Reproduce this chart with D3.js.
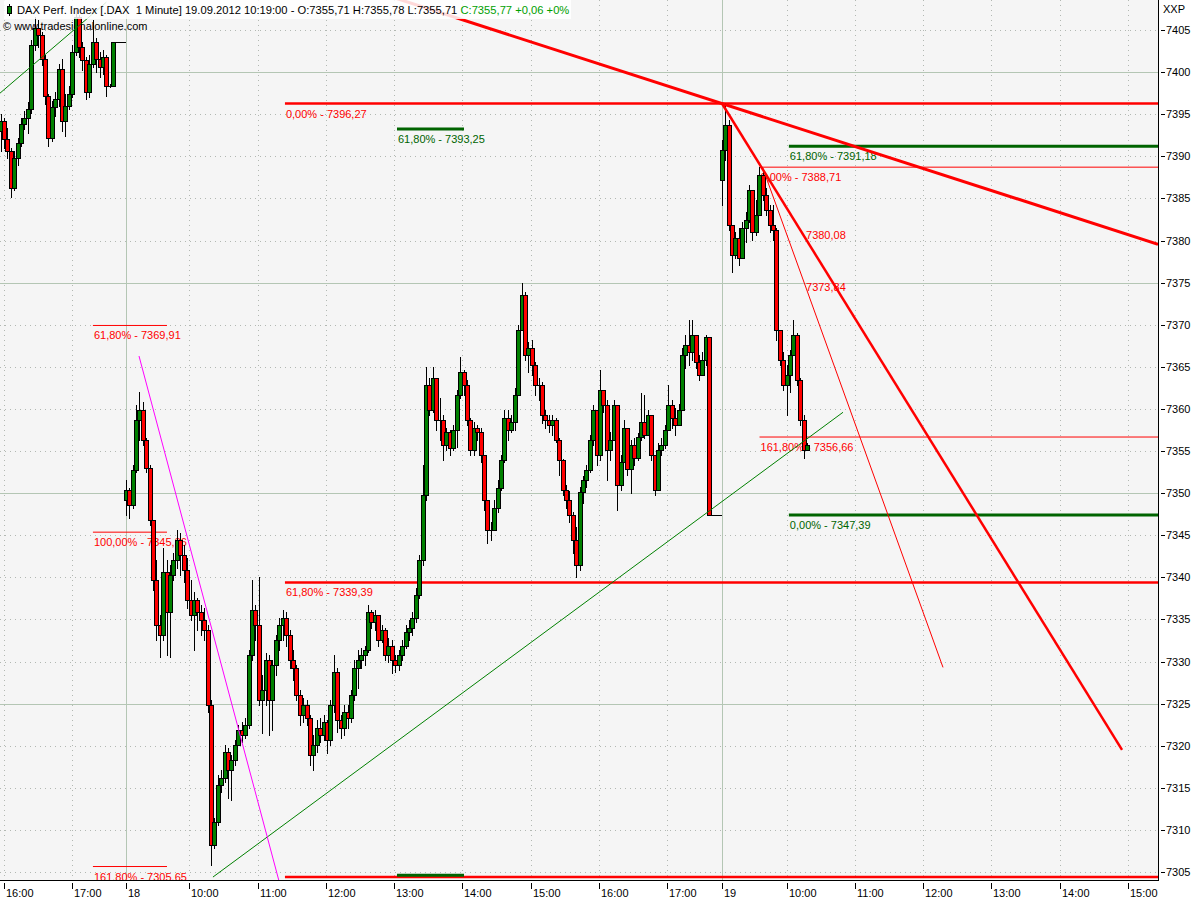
<!DOCTYPE html>
<html><head><meta charset="utf-8">
<script src="https://cdn.jsdelivr.net/npm/d3@7"></script>
<style>
body{margin:0;background:#fff}
svg{display:block}
text{font-family:"Liberation Sans",Arial,sans-serif;font-size:11px}
</style>
</head><body>
<svg id="chart" width="1200" height="900"></svg>
<script>
// ---------- DATA ----------
const barMinutes = 3;
const sessionStart = [-3, 107, 631];          // minute index of first bar of each session
const sessionOpen  = [7393.0, 7349.2, 7387.2];

const d17Close = [7394.2,7392.0,7390.6,7386.2,7389.8,7391.6,7393.8,7394.6,7395.6,7403.2,7405.2,7404.4,7401.6,7397.2,7392.2,7395.8,7396.8,7400.4,7394.2,7396.0,7397.4,7402.4,7406.6,7403.0,7401.4,7397.6,7401.0,7403.6,7401.6,7400.6,7401.8,7398.4,7398.4,7403.6,7403.6,7403.6,7403.6];
const d17High  = [7395.0,7394.6,7393.4,7391.0,7390.6,7392.2,7394.6,7395.4,7396.4,7403.8,7406.6,7406.2,7404.8,7402.0,7397.4,7396.6,7397.6,7401.0,7401.6,7397.4,7398.4,7403.2,7407.6,7406.8,7403.6,7401.8,7402.0,7406.2,7404.0,7402.4,7402.6,7402.0,7398.6,7403.6,7403.6,7403.6,7403.6];
const d17Low   = [7390.6,7391.0,7389.8,7385.2,7386.0,7389.0,7391.2,7393.2,7392.8,7395.2,7402.6,7403.0,7400.8,7396.2,7391.2,7391.8,7394.8,7396.0,7393.0,7392.4,7395.6,7397.0,7402.0,7401.8,7400.2,7396.8,7397.0,7400.6,7400.0,7399.4,7399.8,7397.2,7398.2,7398.4,7403.6,7403.6,7403.6];

const d18Close = [7350.4,7348.6,7352.7,7358.7,7359.9,7356.3,7353.0,7346.8,7339.7,7334.3,7333.2,7340.6,7335.9,7340.3,7342.1,7344.4,7342.6,7340.9,7337.3,7335.5,
7337.3,7335.9,7334.9,7333.7,7324.8,7308.2,7310.9,7315.3,7316.2,7319.3,7317.1,7318.3,7320.1,7321.9,7321.3,7322.5,7330.8,7336.1,7334.3,7325.4,
7326.6,7330.2,7325.4,7329.6,7332.6,7334.3,7335.2,7333.2,7330.2,7329.2,7326.0,7323.7,7324.8,7323.3,7318.9,7320.1,7322.1,7321.3,7322.8,7320.7,
7324.8,7328.7,7323.1,7322.1,7324.0,7323.3,7326.0,7329.2,7330.2,7330.8,7331.4,7335.9,7334.7,7335.5,7332.6,7333.7,7330.8,7331.9,7330.2,7329.6,
7330.8,7331.9,7333.5,7334.0,7335.2,7337.9,7342.0,7349.8,7362.8,7359.9,7363.7,7358.7,7358.7,7355.7,7357.3,7355.4,7357.5,7361.7,7364.4,7362.8,
7358.7,7355.1,7357.7,7357.3,7354.5,7349.2,7345.6,7345.6,7348.2,7350.6,7353.9,7358.9,7357.5,7358.5,7361.7,7369.4,7373.5,7366.4,7367.2,7365.2,
7362.8,7362.8,7359.3,7358.7,7358.1,7358.7,7356.3,7353.9,7350.4,7349.2,7347.4,7344.4,7341.5,7350.1,7351.6,7352.7,7356.3,7359.9,7354.5,7362.3,
7360.5,7355.1,7356.3,7360.5,7351.0,7353.7,7357.7,7352.9,7355.7,7354.2,7356.7,7358.5,7356.9,7359.3,7354.5,7350.4,7355.1,7355.7,7357.5,7360.5,
7358.9,7358.1,7359.9,7366.4,7367.6,7366.8,7368.8,7365.6,7364.0,7365.8,7368.5,7347.39,7347.39,7347.39,7347.39];
const d18High  = [7351.6,7350.6,7353.3,7360.5,7362.0,7360.8,7356.5,7353.3,7346.8,7342.0,7335.5,7343.5,7342.0,7341.5,7342.9,7345.6,7345.3,7343.8,7342.3,7339.7,
7338.3,7337.5,7336.7,7336.4,7334.3,7325.4,7311.4,7316.5,7317.1,7320.1,7319.7,7318.9,7320.7,7322.5,7322.8,7323.3,7331.4,7339.7,7336.7,7340.0,
7328.4,7331.0,7330.8,7330.2,7333.2,7335.2,7336.1,7335.9,7333.7,7331.4,7329.6,7326.6,7325.7,7325.4,7323.7,7321.3,7323.1,7323.3,7323.7,7323.1,
7325.4,7330.8,7329.2,7323.7,7324.8,7324.8,7326.6,7330.2,7331.4,7331.6,7331.9,7336.7,7336.1,7336.1,7335.5,7334.3,7334.0,7332.8,7332.6,7330.8,
7331.4,7332.6,7334.3,7334.9,7335.9,7338.7,7342.7,7353.3,7365.0,7363.7,7365.0,7363.4,7361.3,7359.3,7357.7,7357.5,7358.1,7362.3,7366.2,7364.6,
7363.4,7358.9,7358.5,7358.1,7357.7,7353.3,7349.2,7346.6,7349.2,7351.6,7354.5,7359.9,7359.9,7359.3,7362.5,7370.0,7374.9,7373.9,7367.9,7368.2,
7365.6,7363.7,7363.2,7359.9,7359.3,7359.3,7358.9,7356.5,7354.0,7351.0,7350.2,7347.8,7346.0,7350.7,7352.0,7353.3,7356.9,7360.5,7359.9,7364.6,
7362.3,7361.1,7357.2,7361.1,7359.9,7354.5,7358.7,7357.5,7356.3,7356.5,7357.1,7361.9,7361.7,7359.9,7358.7,7354.5,7355.9,7356.5,7358.1,7362.8,
7361.1,7360.1,7360.6,7367.2,7368.8,7370.5,7370.5,7368.2,7366.4,7366.8,7368.8,7368.5,7347.39,7347.39,7347.39];
const d18Low   = [7347.4,7347.1,7348.2,7352.5,7356.3,7355.7,7352.5,7346.2,7338.5,7332.6,7330.5,7332.6,7330.8,7330.5,7339.7,7341.1,7340.3,7339.4,7336.4,7334.9,
7331.4,7333.7,7333.2,7332.6,7324.0,7305.8,7307.8,7310.6,7314.5,7315.7,7313.8,7313.5,7317.7,7320.1,7320.4,7320.9,7322.1,7330.2,7332.6,7324.8,
7321.5,7324.8,7321.3,7321.9,7328.4,7331.4,7332.6,7331.9,7329.2,7327.8,7325.4,7322.5,7322.8,7322.5,7317.7,7317.1,7319.2,7320.4,7320.7,7319.1,
7320.1,7324.0,7321.6,7320.9,7321.3,7322.1,7322.8,7325.4,7326.9,7329.2,7329.6,7331.1,7334.0,7333.7,7331.9,7332.3,7330.2,7330.0,7328.6,7328.7,
7329.0,7330.2,7331.6,7332.6,7333.2,7334.7,7337.5,7341.5,7349.2,7359.3,7359.6,7357.5,7356.3,7353.9,7355.1,7354.5,7355.1,7355.5,7361.3,7361.7,
7358.1,7354.5,7354.5,7356.3,7353.7,7348.0,7344.1,7344.4,7345.6,7347.8,7350.4,7353.7,7356.3,7357.3,7357.5,7362.0,7369.4,7365.8,7364.4,7364.0,
7361.7,7361.1,7358.3,7357.7,7357.3,7356.9,7356.1,7352.2,7349.8,7348.2,7346.6,7342.9,7340.0,7340.9,7348.8,7350.7,7352.5,7355.7,7353.3,7353.9,
7359.6,7351.6,7353.9,7356.3,7348.0,7350.4,7353.7,7352.2,7350.0,7353.3,7353.9,7356.3,7356.5,7357.3,7353.9,7349.8,7350.4,7354.5,7355.4,7358.1,
7357.7,7356.9,7358.1,7360.5,7364.9,7365.2,7365.8,7364.9,7363.4,7364.1,7365.2,7347.39,7347.39,7347.39,7347.39];

const d19Close = [7390.7,7393.7,7381.8,7378.3,7380.3,7377.9,7381.5,7382.4,7386.0,7381.0,7383.0,7387.8,7385.4,7383.6,7381.8,7381.2,7369.4,7365.8,7362.8,7364.0,7366.4,7368.8,7363.4,7358.7,7355.1,7355.77];
const d19High  = [7391.9,7396.3,7394.3,7381.8,7381.0,7381.5,7382.2,7383.4,7386.6,7385.4,7384.8,7388.7,7388.1,7386.2,7384.2,7384.2,7381.5,7369.4,7366.8,7365.2,7367.0,7370.5,7369.0,7363.7,7359.3,7356.0];
const d19Low   = [7384.2,7389.6,7381.2,7376.2,7377.9,7377.1,7379.5,7379.8,7382.2,7380.1,7380.7,7383.0,7384.8,7383.0,7381.0,7380.1,7368.2,7365.2,7362.2,7359.3,7362.0,7366.4,7362.8,7358.1,7354.2,7355.4];

// time axis (minute index) and labels
const timeTicks  = [0,60,107,163,223,283,343,403,463,523,583,631,688,748,808,868,928,988];
const timeLabels = ["16:00","17:00","18","10:00","11:00","12:00","13:00","14:00","15:00","16:00","17:00","19","10:00","11:00","12:00","13:00","14:00","15:00"];
const dayBreaks  = [107, 631];
const priceTicks = [7305,7310,7315,7320,7325,7330,7335,7340,7345,7350,7355,7360,7365,7370,7375,7380,7385,7390,7395,7400,7405];
const majorPrices = [7325,7350,7375,7400];

// Fibonacci level lines (price, from minute, to minute, label)
const levelPrice = [7396.27,7393.25,7391.18,7388.71,7356.66,7347.39,7339.39,7304.4,7304.6,7369.91,7345.36,7305.65];
const levelFrom  = [247,345.5,690,664.2,664.2,690,247,247,345.5,78.2,78.2,78.2];
const levelTo    = [1014.5,404.4,1014.5,1014.5,1014.5,1014.5,1014.5,1014.5,404.4,143.3,143.3,143.3];
const levelText  = ["0,00% - 7396,27","61,80% - 7393,25","61,80% - 7391,18","0,00% - 7388,71","161,80% - 7356,66","0,00% - 7347,39","61,80% - 7339,39","","","61,80% - 7369,91","100,00% - 7345,36","161,80% - 7305,65"];
const levelKind  = ["redB","greenB","greenB","red","red","greenB","redB","redB","greenB","red","red","red"];

// trend / fan lines: [t1, p1, t2, p2]
const trendRed   = [300, 7410.71, 1014.5, 7379.55];
const fanThick   = [631.2, 7396.27, 982.9, 7319.5];
const fanThin    = [666.8, 7388.71, 825.5, 7329.3];
const fanLabelT  = 704.2;
const fanLabels  = [["7380,08",7380.08],["7373,84",7373.84]];
const magentaLn  = [118.7, 7366.28, 243.5, 7303.05];
const greenLn    = [183.7, 7304.4, 737.6, 7359.6];
const greenLnTop = [-3.5, 7397.5, 90, 7408.3];

// ---------- DRAW ----------
const W = 1158, H = 880;
const svg = d3.select("#chart");
const x = d3.scaleLinear().domain([-3.5, 1014.5]).range([0, W]);
const y = d3.scaleLinear().domain([7305, 7405]).range([872, 30]);

svg.append("defs").append("clipPath").attr("id","plot")
  .append("rect").attr("x",0).attr("y",0).attr("width",W).attr("height",H);

svg.append("rect").attr("x",0).attr("y",0).attr("width",W).attr("height",H).attr("fill","#f5f5f5");

const g = svg.append("g").attr("clip-path","url(#plot)");
const grid = g.append("g").attr("shape-rendering","crispEdges");
priceTicks.forEach(p=>{
  const yy = Math.round(y(p))+0.5, major = majorPrices.includes(p);
  grid.append("line").attr("x1",0).attr("x2",W).attr("y1",yy).attr("y2",yy)
    .attr("stroke", major?"#b4c6b4":"#b2b8b2").attr("stroke-dasharray", major?null:"1,4");
});
timeTicks.forEach(t=>{
  const xx = Math.round(x(t))+0.5, major = dayBreaks.includes(t);
  grid.append("line").attr("x1",xx).attr("x2",xx).attr("y1",0).attr("y2",H)
    .attr("stroke", major?"#b4c6b4":"#b2b8b2").attr("stroke-dasharray", major?null:"1,4");
});

const kindColor = {red:"#ff0000", redB:"#ff0000", greenB:"#006400"};
const kindWidth = {red:1, redB:2.5, greenB:3};
const lev = g.append("g");
levelPrice.forEach((p,i)=>{
  const yy = y(p);
  lev.append("line").attr("x1",x(levelFrom[i])).attr("x2",x(levelTo[i]))
    .attr("y1",yy).attr("y2",yy)
    .attr("stroke",kindColor[levelKind[i]]).attr("stroke-width",kindWidth[levelKind[i]]);
  if (levelText[i]) lev.append("text").attr("x",x(levelFrom[i])+1).attr("y",yy+14)
    .attr("fill",kindColor[levelKind[i]]).text(levelText[i]);
});
fanLabels.forEach(([s,p])=>{
  lev.append("text").attr("x",x(fanLabelT)+1).attr("y",y(p)-1).attr("fill","#ff0000").text(s);
});

g.append("text").attr("x",3).attr("y",30).attr("fill","#000").text("© www.tradesignalonline.com");

// candles
function session(si, C, Hh, L){
  let o = sessionOpen[si];
  return C.map((c,i)=>{
    const b = {t: sessionStart[si]+i*barMinutes, o, c, h: Math.max(Hh[i],o,c), l: Math.min(L[i],o,c)};
    o = c; return b;
  });
}
const bars = [].concat(session(0,d17Close,d17High,d17Low), session(1,d18Close,d18High,d18Low), session(2,d19Close,d19High,d19Low));
const cg = g.append("g").attr("shape-rendering","crispEdges");
bars.forEach(b=>{
  const cx = Math.round(x(b.t));
  cg.append("line").attr("x1",cx+0.5).attr("x2",cx+0.5)
    .attr("y1",Math.round(y(b.h))).attr("y2",Math.round(y(b.l))+1).attr("stroke","#000");
  const top = Math.round(y(Math.max(b.o,b.c)))+0.5, bot = Math.round(y(Math.min(b.o,b.c)))+0.5;
  cg.append("path").attr("d",`M${cx-1.5},${top}H${cx+2.5}V${bot}H${cx-1.5}Z`)
    .attr("fill", b.c>=b.o ? "#008000" : "#ff0000").attr("stroke","#000").attr("stroke-width",1);
});

// diagonal lines
function seg(a, color, w){
  g.append("line").attr("x1",x(a[0])).attr("y1",y(a[1])).attr("x2",x(a[2])).attr("y2",y(a[3]))
    .attr("stroke",color).attr("stroke-width",w);
}
seg(greenLnTop,"#008000",1);
seg(greenLn,"#008000",1);
seg(magentaLn,"#ff00ff",1);
seg(fanThin,"#ff0000",1);
seg(fanThick,"#ff0000",2.5);
seg(trendRed,"#ff0000",3);

// header
svg.append("rect").attr("x",4).attr("y",0).attr("width",567).attr("height",19).attr("fill","#fff").attr("opacity",0.85);
svg.append("line").attr("x1",9.5).attr("x2",9.5).attr("y1",4).attr("y2",16).attr("stroke","#000").attr("shape-rendering","crispEdges");
svg.append("rect").attr("x",7.5).attr("y",6.5).attr("width",4).attr("height",7).attr("fill","#008000").attr("stroke","#000").attr("shape-rendering","crispEdges");
const ht = svg.append("text").attr("x",17).attr("y",14).style("font-size","11.2px");
ht.append("tspan").attr("fill","#000").text("DAX Perf. Index [.DAX\u00a0 1 Minute] 19.09.2012 10:19:00 - O:7355,71 H:7355,78 L:7355,71 ");
ht.append("tspan").attr("fill","#00a000").text("C:7355,77 +0,06 +0%");

// axes
const ax = svg.append("g").attr("shape-rendering","crispEdges");
ax.append("line").attr("x1",W+0.5).attr("x2",W+0.5).attr("y1",0).attr("y2",H+1).attr("stroke","#000");
ax.append("line").attr("x1",0).attr("x2",W+1).attr("y1",H+0.5).attr("y2",H+0.5).attr("stroke","#000");
priceTicks.forEach(p=>{
  const yy = Math.round(y(p))+0.5;
  ax.append("line").attr("x1",W+3).attr("x2",W+7).attr("y1",yy).attr("y2",yy).attr("stroke","#000");
  ax.append("text").attr("x",W+8).attr("y",yy).attr("dy","0.35em").attr("fill","#000").text(p);
});
ax.append("text").attr("x",W+5).attr("y",13).attr("fill","#000").text("XXP");
timeTicks.forEach((t,i)=>{
  const xx = Math.round(x(t))+0.5;
  ax.append("line").attr("x1",xx).attr("x2",xx).attr("y1",H+3).attr("y2",H+9).attr("stroke","#000");
  ax.append("text").attr("x",xx+1.5).attr("y",H+17).attr("fill","#000").text(timeLabels[i]);
});
</script>
</body></html>
